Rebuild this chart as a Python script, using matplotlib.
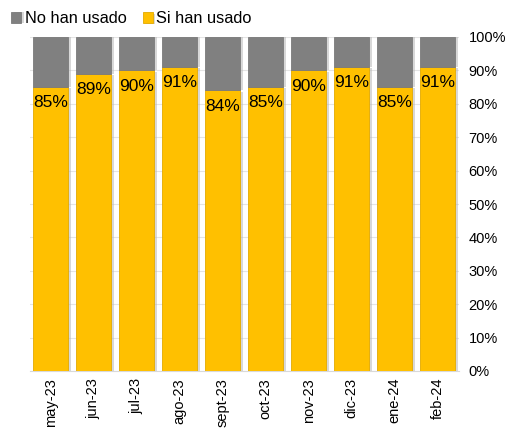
import numpy as np
import matplotlib
matplotlib.use("Agg")
from matplotlib import pyplot as plt
from matplotlib import patheffects as pe
from matplotlib.ticker import PercentFormatter

plt.rcParams["font.family"] = ["Liberation Sans", "DejaVu Sans"]

months = ["may-23", "jun-23", "jul-23", "ago-23", "sept-23",
          "oct-23", "nov-23", "dic-23", "ene-24", "feb-24"]
si_han_usado = [85, 89, 90, 91, 84, 85, 90, 91, 85, 91]
no_han_usado = [100 - v for v in si_han_usado]

fig = plt.figure(figsize=(5.09, 4.28), dpi=100)
ax = fig.add_axes([30 / 509, 57 / 428, 429 / 509, 334 / 428])

x = np.arange(len(months))
shadow = [pe.SimplePatchShadow(offset=(2, -1), shadow_rgbFace="0.7", alpha=0.5), pe.Normal()]
b1 = ax.bar(x, si_han_usado, width=0.81, color="#FFC000", edgecolor="#E3AA00",
            linewidth=0.6, label="Si han usado", zorder=3)
b2 = ax.bar(x, no_han_usado, width=0.81, bottom=si_han_usado, color="#808080",
            edgecolor="#7A7A7A", linewidth=0.6, label="No han usado", zorder=3)
for p in b1:
    p.set_path_effects(shadow)
for p in b2:
    p.set_path_effects([pe.SimplePatchShadow(offset=(2, 0), shadow_rgbFace="0.7", alpha=0.5), pe.Normal()])

for xi, v in zip(x, si_han_usado):
    ax.annotate(f"{v}%", (xi, v), xytext=(0, -6), textcoords="offset points",
                ha="center", va="top", fontsize=12.5, zorder=4)

ax.set_xlim(-0.48, len(months) - 0.5)
ax.set_ylim(0, 100)
ax.set_yticks(np.arange(0, 101, 10))
ax.yaxis.set_major_formatter(PercentFormatter(decimals=0))
ax.yaxis.tick_right()
ax.tick_params(axis="y", length=0, labelsize=10.5, pad=7)
ax.set_xticks(x)
ax.set_xticklabels(months, rotation=90, fontsize=10.5)
ax.tick_params(axis="x", length=0, pad=5)
ax.grid(axis="y", color="#E4E4E4", linewidth=0.8, zorder=0)
for s in ["top", "left", "right"]:
    ax.spines[s].set_visible(False)
ax.spines["bottom"].set_color("#D9D9D9")

handles = [b2, b1]
fig.legend(handles, ["No han usado", "Si han usado"], loc="upper left",
           bbox_to_anchor=(0.0, 1.0), ncol=2, frameon=False, fontsize=11.8,
           handlelength=0.6, handleheight=0.6, handletextpad=0.2, columnspacing=1.0,
           borderaxespad=0.3)

fig.savefig("out.png", dpi=100)
